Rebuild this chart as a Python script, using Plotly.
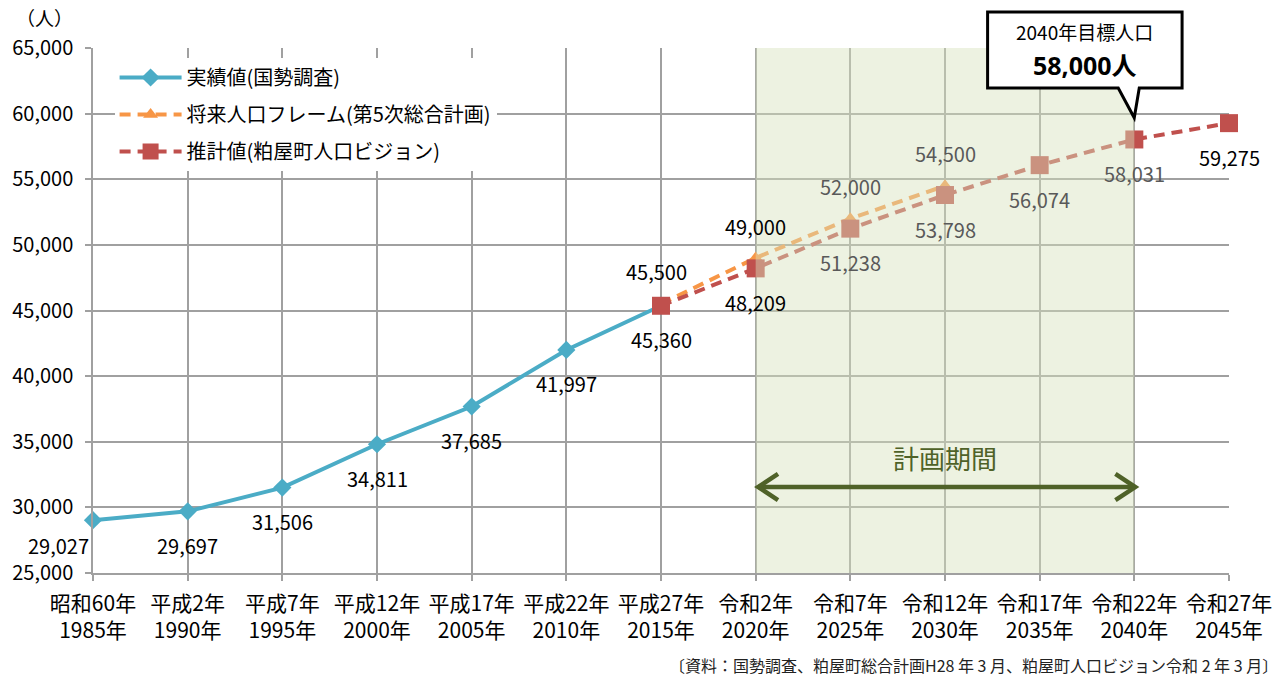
import plotly.graph_objects as go

# ---- data ----
years = [1985, 1990, 1995, 2000, 2005, 2010, 2015, 2020, 2025, 2030, 2035, 2040, 2045]
era_labels = ["昭和60年", "平成2年", "平成7年", "平成12年", "平成17年", "平成22年", "平成27年",
              "令和2年", "令和7年", "令和12年", "令和17年", "令和22年", "令和27年"]

actual_years = [1985, 1990, 1995, 2000, 2005, 2010, 2015]
actual_pop = [29027, 29697, 31506, 34811, 37685, 41997, 45360]

frame_years = [2015, 2020, 2025, 2030]
frame_pop = [45500, 49000, 52000, 54500]

estimate_years = [2015, 2020, 2025, 2030, 2035, 2040, 2045]
estimate_pop = [45360, 48209, 51238, 53798, 56074, 58031, 59275]

plan_start, plan_end = 2020, 2040
target_year = 2040
target_pop = 58000

FONT = "Noto Sans CJK JP"
BOLD_FONT = "Open Sans, Noto Sans CJK JP"
BLUE = "#4BACC6"
ORANGE = "#F79646"
RED = "#C0504D"
GREEN = "#4F6228"

fig = go.Figure()

fig.add_trace(go.Scatter(
    x=actual_years, y=actual_pop, mode="lines+markers", name="実績値(国勢調査)",
    legendgroup="a", cliponaxis=False,
    line=dict(color=BLUE, width=4),
    marker=dict(symbol="diamond", size=14, color=BLUE)))

fig.add_trace(go.Scatter(
    x=frame_years, y=frame_pop, mode="lines+markers", name="将来人口フレーム(第5次総合計画)",
    legendgroup="b", cliponaxis=False,
    line=dict(color=ORANGE, width=4, dash="11px,7px"),
    marker=dict(symbol="triangle-up", size=13, color=ORANGE)))

fig.add_trace(go.Scatter(
    x=estimate_years, y=estimate_pop, mode="lines+markers", name="推計値(粕屋町人口ビジョン)",
    legendgroup="c", cliponaxis=False,
    line=dict(color=RED, width=4, dash="11px,7px"),
    marker=dict(symbol="square", size=18, color=RED)))

# ---- data labels ----
annotations = []


def add_labels(xs, ys, yshift, first_shift=(0, None), shaded_color="#595959"):
    for i, (x, y) in enumerate(zip(xs, ys)):
        inside = plan_start < x <= plan_end
        dx, dy = first_shift if i == 0 else (0, None)
        annotations.append(dict(
            x=x, y=y, xref="x", yref="y", text=f"{y:,}", showarrow=False,
            xanchor="center", yanchor="middle",
            xshift=dx, yshift=yshift if dy is None else dy,
            font=dict(family=FONT, size=20, color=shaded_color if inside else "#000000")))


add_labels(actual_years, actual_pop, -34, first_shift=(-35, -25))
add_labels(frame_years, frame_pop, 32, first_shift=(-5, None))
add_labels(estimate_years[1:], estimate_pop[1:], -34)

# ---- planning period ----
shapes = [dict(type="rect", xref="x", yref="paper", x0=plan_start, x1=plan_end, y0=0, y1=1,
               fillcolor="rgba(214,227,188,0.45)", line=dict(width=0), layer="above")]

arrow_y = 31552
arm_x, arm_y = 1.05, 1000
lx, rx = plan_start + 0.13, plan_end + 0.05
for path in [
    f"M{lx},{arrow_y} L{rx},{arrow_y}",
    f"M{lx + arm_x},{arrow_y + arm_y} L{lx},{arrow_y} L{lx + arm_x},{arrow_y - arm_y}",
    f"M{rx - arm_x},{arrow_y + arm_y} L{rx},{arrow_y} L{rx - arm_x},{arrow_y - arm_y}",
]:
    shapes.append(dict(type="path", xref="x", yref="y", path=path,
                       line=dict(color=GREEN, width=4.5), layer="above"))

annotations.append(dict(x=(plan_start + plan_end) / 2, y=33838, xref="x", yref="y",
                        text="計画期間", showarrow=False, xanchor="center", yanchor="middle",
                        font=dict(family=FONT, size=26, color=GREEN)))

# ---- target callout (paper coordinates) ----
bl, br, bt, bb = 0.7875, 0.9587, 1.0686, 0.9238
pl, pr, tipx, tipy = 0.9025, 0.9210, 0.9166, 0.867
shapes.append(dict(
    type="path", xref="paper", yref="paper",
    path=(f"M{bl},{bt} L{br},{bt} L{br},{bb} L{pr},{bb} L{tipx},{tipy} "
          f"L{pl},{bb} L{bl},{bb} Z"),
    fillcolor="white", line=dict(color="black", width=3), layer="above"))
annotations.append(dict(x=(bl + br) / 2, y=1.0305, xref="paper", yref="paper",
                        text=f"{target_year}年目標人口", showarrow=False,
                        xanchor="center", yanchor="middle",
                        font=dict(family=FONT, size=19, color="black")))
annotations.append(dict(x=(bl + br) / 2, y=0.9676, xref="paper", yref="paper",
                        text=f"<b>{target_pop:,}人</b>", showarrow=False,
                        xanchor="center", yanchor="middle",
                        font=dict(family=BOLD_FONT, size=25, color="black")))

# ---- unit and source ----
annotations.append(dict(x=-0.0425, y=1.0575, xref="paper", yref="paper", text="（人）",
                        showarrow=False, xanchor="center", yanchor="middle",
                        font=dict(family=FONT, size=19, color="black")))
annotations.append(dict(x=1.0445, y=-0.175, xref="paper", yref="paper",
                        xanchor="right", yanchor="middle",
                        text="〔資料：国勢調査、粕屋町総合計画H28 年 3 月、粕屋町人口ビジョン令和 2 年 3 月〕",
                        showarrow=False, font=dict(family=FONT, size=16, color="#222222")))

fig.update_layout(
    width=1287, height=680,
    margin=dict(l=90, r=58, t=48, b=107),
    paper_bgcolor="white", plot_bgcolor="white",
    font=dict(family=FONT, size=20, color="black"),
    shapes=shapes, annotations=annotations,
    legend=dict(x=0.019, y=0.981, xanchor="left", yanchor="top",
                bgcolor="white", borderwidth=0, itemwidth=62, tracegroupgap=8,
                font=dict(family=FONT, size=20)),
    xaxis=dict(range=[1985, 2045], tickvals=years,
               ticktext=[f"{e}<br>{y}年" for e, y in zip(era_labels, years)],
               showgrid=True, gridcolor="#A0A0A0", gridwidth=1.5,
               showline=True, linecolor="#A0A0A0", linewidth=1.5,
               ticks="outside", ticklen=6, tickcolor="#A0A0A0", tickwidth=1.5,
               ticklabelstandoff=5,
               tickfont=dict(family=FONT, size=21), zeroline=False),
    yaxis=dict(range=[25000, 65000], dtick=5000, tickformat=",",
               showgrid=True, gridcolor="#A0A0A0", gridwidth=1.5,
               showline=True, linecolor="#A0A0A0", linewidth=1.5,
               ticks="outside", ticklen=6, tickcolor="#A0A0A0", tickwidth=1.5,
               ticklabelstandoff=8,
               tickfont=dict(family=FONT, size=20), zeroline=False),
)

fig.write_html("out.html")
